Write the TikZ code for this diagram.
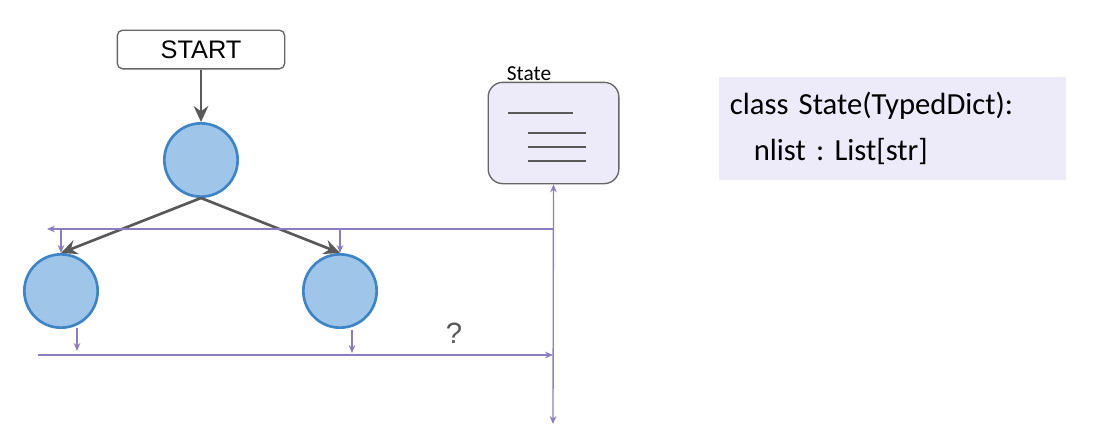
\documentclass[tikz,border=0pt]{standalone}
\usepackage{fontspec}
\setmainfont{Carlito}
\newfontfamily\arialfont{Liberation Sans}
\usepackage{tikz}
\usetikzlibrary{arrows, arrows.meta}
\frenchspacing
\definecolor{nodeblue}{HTML}{9FC5E8}
\definecolor{nodeline}{HTML}{3D85C6}
\definecolor{lavender}{HTML}{EDEAFA}
\definecolor{flowpurple}{HTML}{8E7CC3}
\definecolor{edgegray}{HTML}{595959}
\definecolor{boxgray}{HTML}{666666}
\tikzset{vertex/.style = {shape = circle, draw = nodeline, fill = nodeblue, line width = 2pt, minimum size = 55pt, inner sep = 0pt}}
\tikzset{edge/.style = {-, -{Stealth[length = 12pt, width = 11pt, inset = 4pt]}, draw = edgegray, line width = 2pt}}
\tikzset{flow/.style = {-, draw = flowpurple, line width = 1pt}}
\tikzset{flowtip/.style = {-{Stealth[length = 6pt, width = 5pt, inset = 2pt]}}}
\tikzset{startbox/.style = {shape = rectangle, draw = boxgray, line width = 1pt, rounded corners = 4pt, minimum width = 125.5pt, minimum height = 29pt, font = \arialfont\fontsize{19}{19}\selectfont}}
\tikzset{statebox/.style = {shape = rectangle, draw = boxgray, fill = lavender, line width = 1pt, rounded corners = 11pt, minimum width = 98pt, minimum height = 76pt}}
\tikzset{listline/.style = {draw = edgegray, line width = 1.5pt}}

\begin{document}
\begin{tikzpicture}[x = 0.75pt, y = -0.75pt]
	\useasboundingbox (0, 0) rectangle (1098, 444);

	\node[startbox] (start) at (201, 49.5) {START};
	\node[vertex] (a) at (201, 160) {};
	\node[vertex] (b) at (61, 291) {};
	\node[vertex] (c) at (340, 291) {};

	\node[statebox] (state) at (553.5, 133) {};
	\node[font = \fontsize{16}{16}\selectfont] (statelabel) at (529, 74) {State};
	\draw[listline] (508, 113) -- (573, 113);
	\draw[listline] (528, 133) -- (586, 133);
	\draw[listline] (528, 147) -- (586, 147);
	\draw[listline] (528, 161) -- (586, 161);

	\node[fill = lavender, minimum width = 260pt, minimum height = 77pt, text width = 244pt, align = left, inner xsep = 8pt, font = \fontsize{23}{34}\selectfont] (code) at (892.5, 128.5) {class State(TypedDict):\\\hspace*{18pt}nlist : List[str]};

	\draw[edge] (start) -- (a);
	\draw[edge] (a.south) -- (b.north);
	\draw[edge] (a.south) -- (c.north);

	\coordinate (topright) at (553, 229);
	\coordinate (topleft) at (47, 229);
	\coordinate (tapb) at (61, 229);
	\coordinate (tapc) at (340, 229);
	\coordinate (bottom) at (553, 424);
	\coordinate (lowleft) at (38, 355);
	\coordinate (lowright) at (553, 355);
	\coordinate (outb) at (77, 328);
	\coordinate (outbend) at (77, 351);
	\coordinate (outc) at (352, 330);
	\coordinate (outcend) at (352, 353);

	\draw[flow, {Stealth[length = 6pt, width = 5pt, inset = 2pt]}-{Stealth[length = 6pt, width = 5pt, inset = 2pt]}] (state.south) -- (bottom);
	\draw[flow, flowtip] (topright) -- (topleft);
	\draw[flow, flowtip] (tapb) -- (b.north);
	\draw[flow, flowtip] (tapc) -- (c.north);
	\draw[flow, flowtip] (lowleft) -- (lowright);
	\draw[flow, flowtip] (outb) -- (outbend);
	\draw[flow, flowtip] (outc) -- (outcend);

	\node[text = edgegray, font = \arialfont\fontsize{22}{22}\selectfont] (question) at (454, 333) {?};
\end{tikzpicture}
\end{document}
